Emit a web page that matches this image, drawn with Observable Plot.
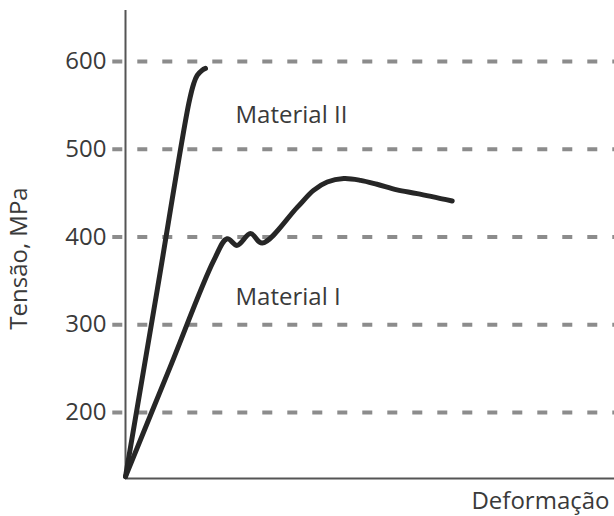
<!DOCTYPE html>
<html><head><meta charset="utf-8">
<script src="https://cdn.jsdelivr.net/npm/d3@7"></script>
<script src="https://cdn.jsdelivr.net/npm/@observablehq/plot@0.6"></script>
<style>body{margin:0;background:#fff}</style>
</head><body><div id="chart"></div>
<script>
// Tick values of the stress axis (MPa)
const yTicks = [200, 300, 400, 500, 600];
// Material I curve (strain in arbitrary units 0–100, stress in MPa)
const mat1X = [0, 9, 18.06, 20.79, 22.84, 25.56, 27.95, 35.11, 38.45, 41.25, 44.64, 48.06, 51.43, 55.52, 59.65, 66.81];
const mat1Y = [127, 250, 373.3, 398, 390.4, 403.8, 393, 433.7, 453.1, 462.6, 466.5, 464.5, 460, 453.7, 449.4, 441];
// Material II curve
const mat2X = [0, 6.5, 12.94, 13.97, 14.66, 15.68, 16.36];
const mat2Y = [127, 340, 552, 575, 584, 590, 592];
// Curve labels
const labelText = ["Material II", "Material I"];
const labelX = [22.5, 22.5];
const labelY = [529.5, 322];
const yDomain = [124.8, 658];
const xDomain = [0, 100];

const mat1 = mat1X.map((x, i) => ({x, y: mat1Y[i]}));
const mat2 = mat2X.map((x, i) => ({x, y: mat2Y[i]}));
const labels = labelText.map((t, i) => ({t, x: labelX[i], y: labelY[i]}));

const textColor = "#3a3a3a";
const plot = Plot.plot({
  width: 614, height: 516,
  marginLeft: 125, marginRight: 0, marginTop: 10, marginBottom: 38,
  x: {domain: xDomain, axis: null},
  y: {domain: yDomain, axis: null},
  style: {fontFamily: "Open Sans", background: "white", color: textColor},
  marks: [
    Plot.ruleY(yTicks, {x1: -2.6, x2: xDomain[1], stroke: "#8c8c8c", strokeWidth: 4, strokeDasharray: "10,15"}),
    Plot.axisY(yTicks, {tickSize: 0, tickPadding: 19, fontSize: 24, color: textColor, label: null}),
    Plot.ruleX([xDomain[0]], {stroke: "#555", strokeWidth: 2}),
    Plot.ruleY([yDomain[0]], {stroke: "#555", strokeWidth: 2}),
    Plot.line(mat1, {x: "x", y: "y", stroke: "#262626", strokeWidth: 5, curve: "catmull-rom", strokeLinecap: "round"}),
    Plot.line(mat2, {x: "x", y: "y", stroke: "#262626", strokeWidth: 5, curve: "catmull-rom", strokeLinecap: "round"}),
    Plot.text(labels, {x: "x", y: "y", text: "t", textAnchor: "start", lineAnchor: "bottom", fontSize: 24, fill: textColor}),
    Plot.text(["Tensão, MPa"], {frameAnchor: "left", rotate: -90, textAnchor: "middle", lineAnchor: "middle", dx: -106, dy: 14, fontSize: 24, fill: textColor}),
    Plot.text(["Deformação"], {frameAnchor: "bottom-right", textAnchor: "end", lineAnchor: "bottom", dx: -5, dy: 30, fontSize: 24, fill: textColor})
  ]
});
document.getElementById("chart").appendChild(plot);
</script>
</body></html>
